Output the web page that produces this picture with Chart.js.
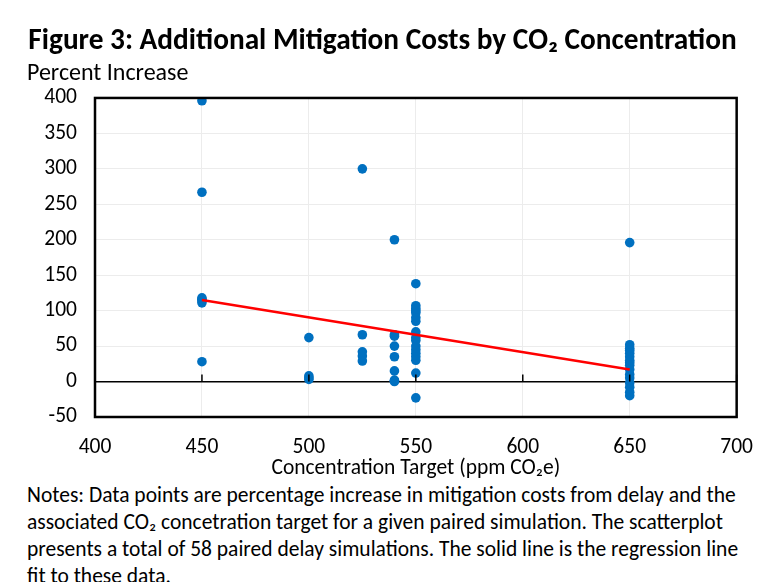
<!DOCTYPE html>
<html>
<head>
<meta charset="utf-8">
<script src="https://cdn.jsdelivr.net/npm/chart.js@4.4.1/dist/chart.umd.min.js"></script>
<style>
  body { margin: 0; background: #fff; }
  #wrap { position: relative; width: 771px; height: 482px; }
  #notes {
    position: absolute; left: 27px; top: 482px; width: 744px;
    font-family: Carlito, Lato, sans-serif; font-size: 21.5px; line-height: 27px; color: #000;
    white-space: nowrap;
  }
</style>
</head>
<body>
<div id="wrap"><canvas id="chart1"></canvas></div>
<div id="notes">Notes: Data points are percentage increase in mitigation costs from delay and the<br>associated CO₂ concetration target for a given paired simulation. The scatterplot<br>presents a total of 58 paired delay simulations. The solid line is the regression line<br>fit to these data.</div>
<script>
var targets = [
  450, 450, 450, 450, 450, 450, 450,
  500, 500, 500, 500,
  525, 525, 525, 525, 525,
  540, 540, 540, 540, 540, 540, 540, 540, 540,
  550, 550, 550, 550, 550, 550, 550, 550, 550, 550, 550, 550, 550, 550, 550, 550, 550,
  650, 650, 650, 650, 650, 650, 650, 650, 650, 650, 650, 650, 650, 650, 650, 650
];
var increases = [
  396, 267, 118, 116, 114, 111, 28,
  62, 8, 5, 3,
  300, 66, 42, 36, 29,
  200, 66, 64, 50, 35, 15, 2, 1, 0,
  138, 107, 103, 100, 97, 90, 85, 70, 62, 58, 50, 45, 40, 35, 30, 12, -23,
  196, 52, 47, 44, 40, 35, 30, 27, 23, 17, 10, 5, -2, -8, -15, -20
];
var fitX = [450, 650];
var fitY = [115, 17];
var xTicks = [400, 450, 500, 550, 600, 650, 700];

var points = targets.map(function (t, i) { return { x: t, y: increases[i] }; });
var fitLine = fitX.map(function (t, i) { return { x: t, y: fitY[i] }; });

var fontName = "Carlito, Lato, sans-serif";

var framePlugin = {
  id: "frame",
  afterDraw: function (chart) {
    var c = chart.ctx, a = chart.chartArea;
    var xs = chart.scales.x, ys = chart.scales.y;
    var y0 = ys.getPixelForValue(0);
    c.save();
    c.strokeStyle = "#000";
    c.lineWidth = 1.5;
    xTicks.forEach(function (v) {
      var px = xs.getPixelForValue(v);
      c.beginPath();
      c.moveTo(px, y0);
      c.lineTo(px, y0 - 7);
      c.stroke();
    });
    c.lineWidth = 2.5;
    c.strokeRect(a.left, a.top, a.right - a.left, a.bottom - a.top);
    c.restore();
  }
};

new Chart(document.getElementById("chart1"), {
  type: "scatter",
  data: {
    datasets: [
      {
        type: "line",
        label: "Regression line",
        data: fitLine,
        borderColor: "#FF0000",
        borderWidth: 2.5,
        pointRadius: 0,
        fill: false
      },
      {
        label: "Paired simulations",
        data: points,
        backgroundColor: "#0070C0",
        borderWidth: 0,
        pointRadius: 4.8
      }
    ]
  },
  options: {
    responsive: true,
    maintainAspectRatio: false,
    animation: false,
    layout: { padding: { left: 27, right: 33, top: 0, bottom: 0 } },
    plugins: {
      legend: { display: false },
      tooltip: { enabled: false },
      title: {
        display: true,
        text: "Figure 3: Additional Mitigation Costs by CO₂ Concentration",
        color: "#000",
        font: { family: fontName, size: 29.3, weight: "bold" },
        padding: { top: 24, bottom: 0 }
      },
      subtitle: {
        display: true,
        text: "Percent Increase",
        align: "start",
        color: "#000",
        font: { family: fontName, size: 24 },
        padding: { top: 0, bottom: 10 }
      }
    },
    scales: {
      x: {
        type: "linear",
        min: 400,
        max: 700,
        afterBuildTicks: function (s) { s.ticks = xTicks.map(function (v) { return { value: v }; }); },
        afterFit: function (s) { s.height = 65; },
        grid: { color: "#ececec", lineWidth: 1, drawTicks: false },
        border: { display: false },
        ticks: { color: "#000", font: { family: fontName, size: 21.5 }, padding: 18 },
        title: {
          display: true,
          text: "Concentration Target (ppm CO₂e)",
          color: "#000",
          font: { family: fontName, size: 21.5 },
          padding: { top: 0, bottom: 0 }
        }
      },
      y: {
        min: -50,
        max: 400,
        ticks: { stepSize: 50, color: "#000", font: { family: fontName, size: 21.5 }, padding: 18 },
        afterFit: function (s) { s.width = 68; },
        grid: {
          drawTicks: false,
          color: function (ctx) { return ctx.tick && ctx.tick.value === 0 ? "#000" : "#ececec"; },
          lineWidth: function (ctx) { return ctx.tick && ctx.tick.value === 0 ? 1.5 : 1; }
        },
        border: { display: false }
      }
    }
  },
  plugins: [framePlugin]
});
</script>
</body>
</html>
